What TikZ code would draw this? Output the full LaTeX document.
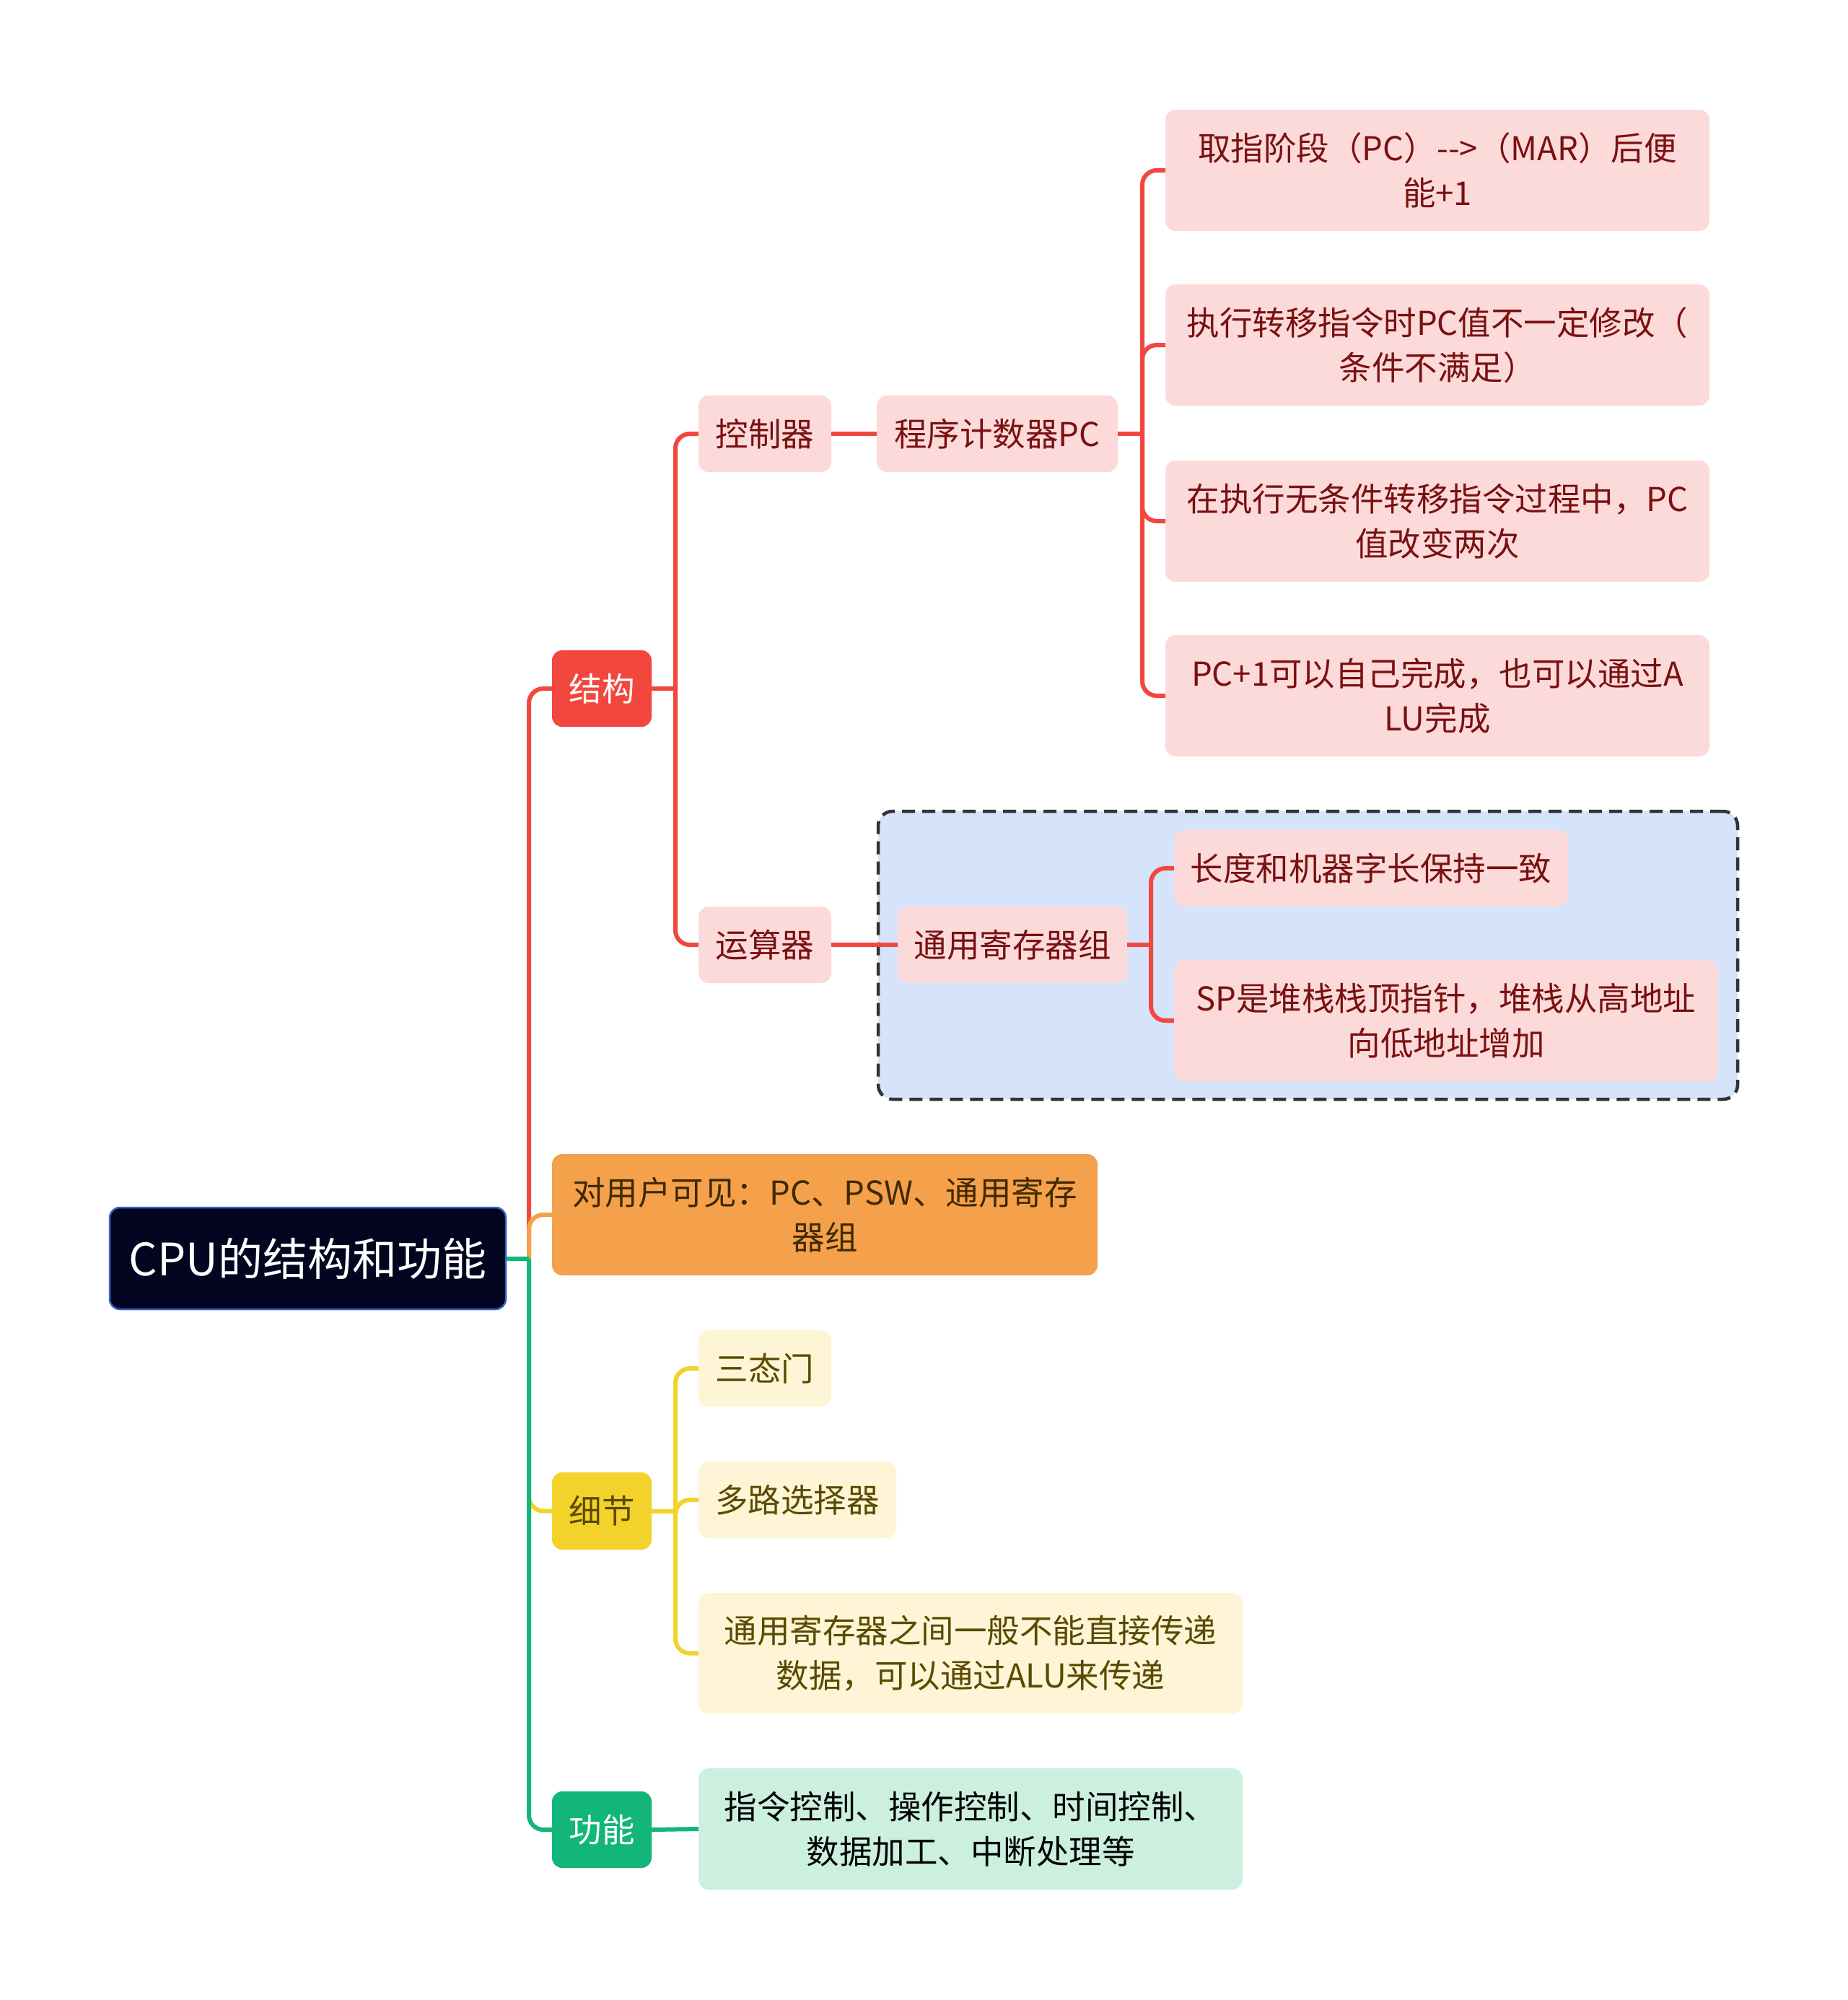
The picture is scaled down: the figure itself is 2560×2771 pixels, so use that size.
\documentclass[tikz,border=0pt]{standalone}
\usepackage{fontspec}
\setmainfont{Noto Sans CJK SC}
\definecolor{cred}{HTML}{F2473F}
\definecolor{corange}{HTML}{F5A04B}
\definecolor{cyellow}{HTML}{F2D22B}
\definecolor{cgreen}{HTML}{13B67A}
\definecolor{pinkfill}{HTML}{FCDADA}
\definecolor{pinktext}{HTML}{7A1010}
\definecolor{yfill}{HTML}{FDF5D5}
\definecolor{ytext}{HTML}{5A4A00}
\definecolor{gfill}{HTML}{CCF0E0}
\definecolor{bluefill}{HTML}{D5E3FB}
\definecolor{rootfill}{HTML}{03041F}
\definecolor{rootborder}{HTML}{3B63C8}
\definecolor{otext}{HTML}{3F2A00}
\begin{document}
\begin{tikzpicture}[x=1pt,y=-1pt,
  box/.style={rectangle, rounded corners=14pt, inner sep=0pt, align=center,
    font=\fontsize{45.5}{62}\selectfont},
  pinkbox/.style={box, fill=pinkfill, text=pinktext},
  ybox/.style={box, fill=yfill, text=ytext},
  conn/.style={line width=6pt, rounded corners=20pt},
  redc/.style={conn, draw=cred},
  orangec/.style={conn, draw=corange},
  yellowc/.style={conn, draw=cyellow},
  greenc/.style={conn, draw=cgreen}]
\useasboundingbox (0,0) rectangle (2560,2771);

% group box
\node[rectangle, rounded corners=20pt, fill=bluefill, draw=black!80, line width=4.5pt,
  dash pattern=on 18pt off 10pt, minimum width=1191pt, minimum height=399pt]
  (grp) at (1812.5,1323.5) {};

% nodes
\node[box, fill=rootfill, draw=rootborder, line width=2.5pt, text=white,
  minimum width=549pt, minimum height=141pt, font=\fontsize{62}{70}\selectfont]
  (root) at (426.5,1743.5) {CPU的结构和功能};

\node[box, fill=cred, text=white, minimum width=138pt, minimum height=106pt]
  (jiegou) at (834,954) {结构};
\node[box, fill=corange, text=otext, minimum width=756pt, minimum height=168pt]
  (yonghu) at (1143,1683) {对用户可见：PC、PSW、通用寄存\\器组};
\node[box, fill=cyellow, text=ytext, minimum width=138pt, minimum height=107pt]
  (xijie) at (834,2093.5) {细节};
\node[box, fill=cgreen, text=white, minimum width=138pt, minimum height=106pt]
  (gongneng) at (834,2535) {功能};

\node[pinkbox, minimum width=184pt, minimum height=106pt] (kzq) at (1060,601) {控制器};
\node[pinkbox, minimum width=334pt, minimum height=106pt] (pc) at (1382,601) {程序计数器PC};
\node[pinkbox, minimum width=754pt, minimum height=168pt] (l1) at (1992,236)
  {取指阶段（PC）\hbox{-}\hbox{-}\hbox{>}（MAR）后便\\能+1};
\node[pinkbox, minimum width=754pt, minimum height=168pt] (l2) at (1992,478)
  {执行转移指令时PC值不一定修改（\\条件不满足）};
\node[pinkbox, minimum width=754pt, minimum height=168pt] (l3) at (1992,722)
  {在执行无条件转移指令过程中，PC\\值改变两次};
\node[pinkbox, minimum width=754pt, minimum height=168pt] (l4) at (1992,964)
  {PC+1可以自己完成，也可以通过A\\LU完成};

\node[pinkbox, minimum width=184pt, minimum height=106pt] (ysq) at (1060,1309) {运算器};
\node[pinkbox, minimum width=318pt, minimum height=106pt] (tyjcq) at (1403,1309) {通用寄存器组};
\node[pinkbox, minimum width=546pt, minimum height=106pt] (cd) at (1900,1203) {长度和机器字长保持一致};
\node[pinkbox, minimum width=754pt, minimum height=168pt] (sp) at (2004,1414)
  {SP是堆栈栈顶指针，堆栈从高地址\\向低地址增加};

\node[ybox, minimum width=184pt, minimum height=106pt] (sty) at (1060,1896) {三态门};
\node[ybox, minimum width=274pt, minimum height=106pt] (dlx) at (1105,2078) {多路选择器};
\node[ybox, minimum width=754pt, minimum height=167pt] (tyq) at (1345,2290.5)
  {通用寄存器之间一般不能直接传递\\数据，可以通过ALU来传递};

\node[box, fill=gfill, text=black, minimum width=754pt, minimum height=168pt] (zl) at (1345,2534)
  {指令控制、操作控制、时间控制、\\数据加工、中断处理等};

% junction coordinates
\coordinate (t0) at (733,1743.5);
\coordinate (t1) at (936,954);
\coordinate (t2) at (1583,601);
\coordinate (t3) at (1595,1309);
\coordinate (t4) at (936,2093.5);

% root connectors
\draw[yellowc] (t0) |- (xijie.west);
\draw[greenc] (t0) |- (gongneng.west);
\draw[redc] (t0) |- (jiegou.west);
\draw[orangec] (t0) |- (yonghu.west);
\draw[greenc] (root.east) -- (t0);

% structure branch
\draw[redc] (jiegou.east) -- (t1);
\draw[redc] (t1) |- (kzq.west);
\draw[redc] (t1) |- (ysq.west);
\draw[redc] (kzq.east) -- (pc.west);
\draw[redc] (pc.east) -- (t2);
\draw[redc] (t2) |- (l1.west);
\draw[redc] (t2) |- (l2.west);
\draw[redc] (t2) |- (l3.west);
\draw[redc] (t2) |- (l4.west);
\draw[redc] (ysq.east) -- (tyjcq.west);
\draw[redc] (tyjcq.east) -- (t3);
\draw[redc] (t3) |- (cd.west);
\draw[redc] (t3) |- (sp.west);

% detail branch
\draw[yellowc] (xijie.east) -- (t4);
\draw[yellowc] (t4) |- (sty.west);
\draw[yellowc] (t4) |- (dlx.west);
\draw[yellowc] (t4) |- (tyq.west);

% function branch
\draw[greenc] (gongneng.east) -- (zl.west);
\end{tikzpicture}
\end{document}
